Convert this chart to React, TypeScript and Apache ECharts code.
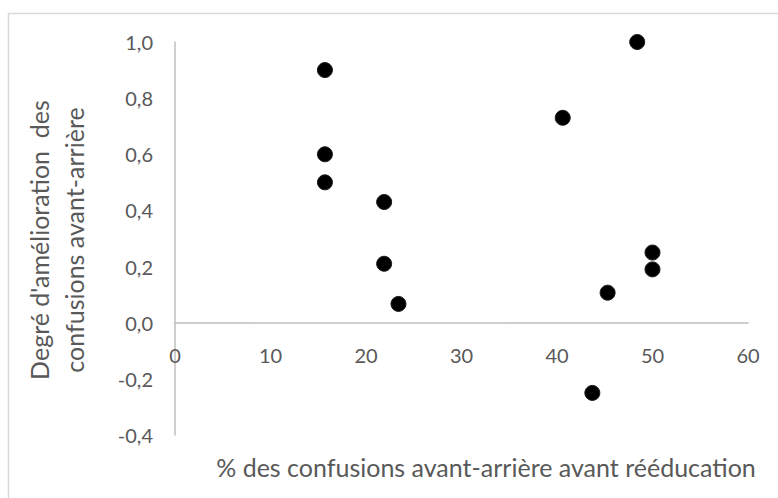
import React, { useEffect, useRef } from "react";
import * as echarts from "echarts";

const xValues = [15.7, 15.7, 15.7, 21.9, 21.9, 23.4, 40.6, 48.4, 50.0, 50.0, 45.3, 43.7];
const yValues = [0.9, 0.6, 0.5, 0.43, 0.21, 0.067, 0.73, 1.0, 0.25, 0.19, 0.107, -0.25];
const xTitle = "% des confusions avant-arrière avant rééducation";
const yTitleLines = ["Degré d'amélioration \u00a0des", "confusions avant-arrière"];

const FONT = "Lato, 'Open Sans', sans-serif";
const TEXT = "#595959";
const AXIS = "#bfbfbf";

export default function App() {
  const ref = useRef<HTMLDivElement>(null);
  useEffect(() => {
    if (!ref.current) return;
    const chart = echarts.init(ref.current, null, { renderer: "svg" });
    const data = xValues.map((x, i) => [x, yValues[i]]);
    chart.setOption({
      animation: false,
      backgroundColor: "#ffffff",
      grid: { left: 175, right: 30, top: 42, bottom: 63, containLabel: false },
      xAxis: {
        type: "value",
        min: 0,
        max: 60,
        interval: 10,
        axisLine: { show: true, onZero: true, lineStyle: { color: AXIS, width: 1.5 } },
        axisTick: { show: false },
        splitLine: { show: false },
        axisLabel: {
          color: TEXT,
          fontFamily: FONT,
          fontSize: 20,
          margin: -90,
        },
      },
      yAxis: {
        type: "value",
        min: -0.4,
        max: 1.0,
        interval: 0.2,
        axisLine: { show: true, onZero: false, lineStyle: { color: AXIS, width: 1.5 } },
        axisTick: { show: false },
        splitLine: { show: false },
        axisLabel: {
          color: TEXT,
          fontFamily: FONT,
          fontSize: 20,
          margin: 22,
          formatter: (v: number) => v.toFixed(1).replace(".", ","),
        },
      },
      graphic: [
        {
          type: "rect",
          silent: true,
          shape: { x: 8.5, y: 13.5, width: 780, height: 500 },
          style: { fill: "none", stroke: "#d9d9d9", lineWidth: 1.5 },
          z: -1,
        },
        {
          type: "text",
          x: 486,
          y: 467,
          style: {
            text: xTitle,
            fill: TEXT,
            font: `25px ${FONT}`,
            textAlign: "center",
            textVerticalAlign: "middle",
          },
        },
        {
          type: "text",
          x: 39,
          y: 240,
          rotation: Math.PI / 2,
          style: {
            text: yTitleLines[0],
            fill: TEXT,
            font: `25px ${FONT}`,
            textAlign: "center",
            textVerticalAlign: "middle",
          },
        },
        {
          type: "text",
          x: 74,
          y: 240,
          rotation: Math.PI / 2,
          style: {
            text: yTitleLines[1],
            fill: TEXT,
            font: `25px ${FONT}`,
            textAlign: "center",
            textVerticalAlign: "middle",
          },
        },
      ],
      series: [
        {
          type: "scatter",
          data,
          symbol: "circle",
          symbolSize: 15,
          itemStyle: { color: "#000000", borderColor: "#1a1a1a", borderWidth: 1, opacity: 1 },
        },
      ],
    });
    return () => chart.dispose();
  }, []);
  return (
    <div
      ref={ref}
      style={{ position: "fixed", left: 0, top: 0, width: 778, height: 498 }}
    />
  );
}
